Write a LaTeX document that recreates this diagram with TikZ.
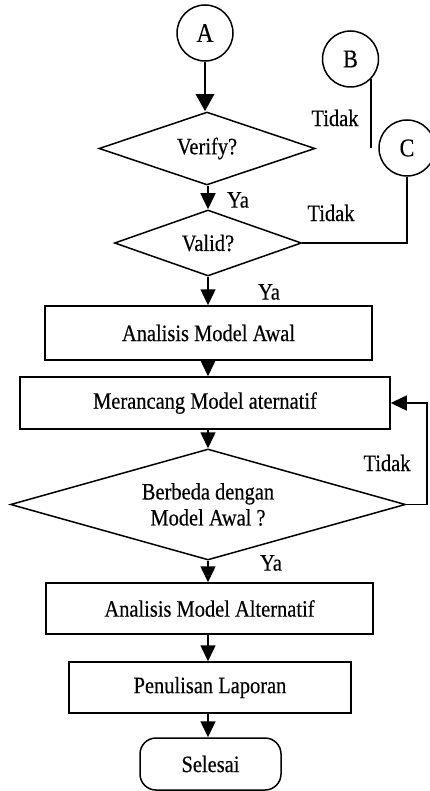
\documentclass[tikz,border=0pt]{standalone}
\usepackage{fontspec}
\setmainfont[FakeStretch=0.87,FakeBold=0.4]{Liberation Serif}
\usetikzlibrary{shapes.geometric,arrows.meta}
\begin{document}
\begin{tikzpicture}[x=1pt,y=-1pt,
  lw/.style={line width=1.5pt},
  txt/.style={font=\fontsize{23.5}{26}\selectfont},
  box/.style={draw,lw,rectangle,inner sep=0pt,txt},
  dia/.style={draw,lw,diamond,aspect=3,inner sep=0pt,txt},
  con/.style={draw,lw,circle,inner sep=0pt,minimum size=56pt,font=\fontsize{25.5}{28}\selectfont},
  lbl/.style={inner sep=0pt,txt},
  arr/.style={lw,-{Triangle[width=15pt,length=16pt]}}]
\useasboundingbox (0,0) rectangle (429,791);
\coordinate (ax) at (208,0);
\coordinate (lp) at (427,0);
% connectors (circles)
\node[con,font=\fontsize{27}{30}\selectfont] (A) at (205,33) {A};
\node[con] (B) at (350.5,59) {B};
\node[con] (C) at (407,148) {C};
% flow
\node[dia,minimum width=216pt,minimum height=73pt] (Vf) at (207,148.5) {Verify?};
\node[dia,minimum width=187pt,minimum height=66pt] (Vd) at (208,243) {Valid?};
\node[box,minimum width=327pt,minimum height=54pt] (AMA) at (208.5,333) {Analisis Model Awal};
\node[box,minimum width=370pt,minimum height=52pt] (MMA) at (205,403) {Merancang Model aternatif};
\node[dia,minimum width=395pt,minimum height=111pt,align=center] (BD) at (208,504.5) {Berbeda dengan\\Model Awal ?};
\node[box,minimum width=327pt,minimum height=51pt] (AMAlt) at (209.5,608.5) {Analisis Model Alternatif};
\node[box,minimum width=282pt,minimum height=51pt] (PL) at (210,687.5) {Penulisan Laporan};
\node[box,rounded corners=16pt,minimum width=141pt,minimum height=52pt] (S) at (210.5,764) {Selesai};
% labels
\node[lbl] (t1) at (335,118) {Tidak};
\node[lbl] (t2) at (331,213) {Tidak};
\node[lbl] (y1) at (238,200) {Ya};
\node[lbl] (y2) at (269,292) {Ya};
\node[lbl] (t3) at (387,463) {Tidak};
\node[lbl] (y3) at (271,563) {Ya};
% arrows
\draw[lw,line width=2.6pt,-{Triangle[width=18pt,length=17pt]}] (A.south) -- (A.south |- Vf.north);
\draw[arr] (Vf.south -| ax) -- (Vd.north);
\draw[arr] (Vd.south) -- (Vd.south |- AMA.north);
\draw[arr] (AMA.south -| ax) -- (MMA.north -| ax);
\draw[arr] (MMA.south -| ax) -- (BD.north);
\draw[arr] (BD.south) -- (BD.south |- AMAlt.north);
\draw[arr] (AMAlt.south -| ax) -- (PL.north -| ax);
\draw[arr] (PL.south -| ax) -- (S.north -| ax);
\draw[lw] (B.-45) -- (B.-45 |- C.west);
\draw[lw] (C.south) -- (C.south |- Vd.east) -- (Vd.east);
\draw[arr] (BD.east) -- (BD.east -| lp) |- (MMA.east);
\end{tikzpicture}
\end{document}
